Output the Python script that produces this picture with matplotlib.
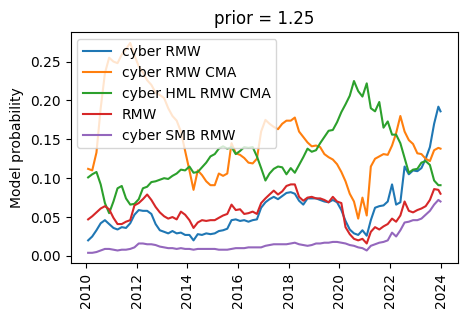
import numpy as np
import pandas as pd
import matplotlib
matplotlib.use('Agg')
import matplotlib.pyplot as plt

# bimonthly month-end dates, Jan 2010 .. Nov 2023, plus Dec 2023
dates = list(pd.date_range('2010-01-31', '2023-11-30', freq='2ME')) + [pd.Timestamp('2023-12-31')]

cyber_rmw = [
    0.020, 0.025, 0.033, 0.042, 0.046, 0.041,
    0.036, 0.034, 0.037, 0.036, 0.042, 0.053,
    0.059, 0.058, 0.058, 0.054, 0.041, 0.033,
    0.031, 0.029, 0.032, 0.029, 0.030, 0.027,
    0.027, 0.020, 0.028, 0.027, 0.029, 0.028,
    0.029, 0.032, 0.033, 0.035, 0.046, 0.047,
    0.045, 0.046, 0.044, 0.046, 0.047, 0.062,
    0.069, 0.073, 0.076, 0.073, 0.077, 0.081,
    0.082, 0.080, 0.071, 0.066, 0.074, 0.074,
    0.074, 0.072, 0.070, 0.069, 0.072, 0.069,
    0.059, 0.045, 0.034, 0.029, 0.027, 0.033,
    0.026, 0.046, 0.062, 0.064, 0.065, 0.070,
    0.092, 0.066, 0.069, 0.115, 0.105, 0.110,
    0.109, 0.113, 0.125, 0.140, 0.170, 0.192,
    0.186,
]
cyber_rmw_cma = [
    0.112, 0.110, 0.133, 0.190, 0.235, 0.255,
    0.250, 0.248, 0.259, 0.266, 0.274, 0.258,
    0.244, 0.236, 0.226, 0.220, 0.210, 0.207,
    0.203, 0.190, 0.180, 0.174, 0.160, 0.135,
    0.110, 0.085, 0.110, 0.104, 0.096, 0.091,
    0.091, 0.106, 0.103, 0.106, 0.145, 0.132,
    0.130, 0.126, 0.120, 0.119, 0.125, 0.160,
    0.175, 0.170, 0.166, 0.163, 0.170, 0.174,
    0.174, 0.178, 0.160, 0.153, 0.146, 0.141,
    0.142, 0.140, 0.131, 0.127, 0.124, 0.118,
    0.108, 0.096, 0.080, 0.070, 0.048, 0.075,
    0.052, 0.115, 0.125, 0.128, 0.131, 0.130,
    0.142, 0.158, 0.180, 0.160, 0.149, 0.144,
    0.132, 0.131, 0.125, 0.122, 0.136, 0.139,
    0.138,
]
cyber_hml_rmw_cma = [
    0.101, 0.105, 0.108, 0.092, 0.068, 0.055,
    0.070, 0.087, 0.090, 0.074, 0.066, 0.067,
    0.073, 0.087, 0.089, 0.095, 0.096, 0.098,
    0.100, 0.099, 0.103, 0.106, 0.111, 0.110,
    0.115, 0.107, 0.108, 0.114, 0.120, 0.128,
    0.131, 0.138, 0.141, 0.138, 0.140, 0.131,
    0.135, 0.140, 0.139, 0.140, 0.128, 0.113,
    0.097, 0.106, 0.112, 0.115, 0.114, 0.105,
    0.113, 0.107, 0.117, 0.127, 0.138, 0.134,
    0.136, 0.145, 0.153, 0.161, 0.162, 0.172,
    0.185, 0.195, 0.206, 0.225, 0.212, 0.205,
    0.222, 0.190, 0.186, 0.198, 0.165, 0.173,
    0.156, 0.156, 0.145, 0.126, 0.107, 0.111,
    0.112, 0.120, 0.122, 0.117, 0.097, 0.091,
    0.091,
]
rmw = [
    0.047, 0.051, 0.056, 0.061, 0.064, 0.060,
    0.049, 0.041, 0.041, 0.044, 0.046, 0.065,
    0.068, 0.073, 0.079, 0.072, 0.063, 0.056,
    0.051, 0.048, 0.050, 0.047, 0.057, 0.053,
    0.046, 0.036, 0.043, 0.046, 0.045, 0.046,
    0.046, 0.049, 0.052, 0.054, 0.066, 0.059,
    0.060, 0.054, 0.055, 0.057, 0.054, 0.068,
    0.074, 0.079, 0.084, 0.079, 0.083, 0.090,
    0.092, 0.092, 0.076, 0.071, 0.075, 0.076,
    0.074, 0.074, 0.072, 0.069, 0.076, 0.070,
    0.068, 0.037, 0.028, 0.022, 0.020, 0.022,
    0.016, 0.031, 0.037, 0.034, 0.038, 0.041,
    0.048, 0.044, 0.052, 0.070, 0.058, 0.056,
    0.059, 0.061, 0.064, 0.072, 0.086, 0.085,
    0.080,
]
cyber_smb_rmw = [
    0.004, 0.004, 0.005, 0.007, 0.009, 0.009,
    0.008, 0.007, 0.008, 0.008, 0.009, 0.011,
    0.016, 0.016, 0.015, 0.015, 0.014, 0.012,
    0.011, 0.010, 0.010, 0.009, 0.010, 0.009,
    0.009, 0.008, 0.009, 0.009, 0.009, 0.009,
    0.009, 0.008, 0.008, 0.008, 0.009, 0.010,
    0.010, 0.010, 0.011, 0.011, 0.011, 0.011,
    0.013, 0.014, 0.015, 0.015, 0.015, 0.015,
    0.016, 0.017, 0.015, 0.014, 0.013, 0.014,
    0.016, 0.016, 0.017, 0.017, 0.018, 0.018,
    0.017, 0.016, 0.014, 0.013, 0.011, 0.010,
    0.007, 0.013, 0.015, 0.017, 0.018, 0.020,
    0.030, 0.025, 0.033, 0.043, 0.044, 0.046,
    0.046, 0.048, 0.053, 0.058, 0.066, 0.072,
    0.070,
]

df = pd.DataFrame({
    'cyber RMW': cyber_rmw,
    'cyber RMW CMA': cyber_rmw_cma,
    'cyber HML RMW CMA': cyber_hml_rmw_cma,
    'RMW': rmw,
    'cyber SMB RMW': cyber_smb_rmw,
}, index=dates)

fig, ax = plt.subplots(figsize=(4.67, 3.18), dpi=100)
fig.subplots_adjust(left=0.151, right=0.981, bottom=0.172, top=0.898)
for col in df.columns:
    ax.plot(df.index, df[col], label=col)
ax.set_title('prior = 1.25')
ax.set_ylabel('Model probability')
ax.legend(loc='upper left')
plt.setp(ax.get_xticklabels(), rotation=90)
fig.savefig('out.png', dpi=100)
